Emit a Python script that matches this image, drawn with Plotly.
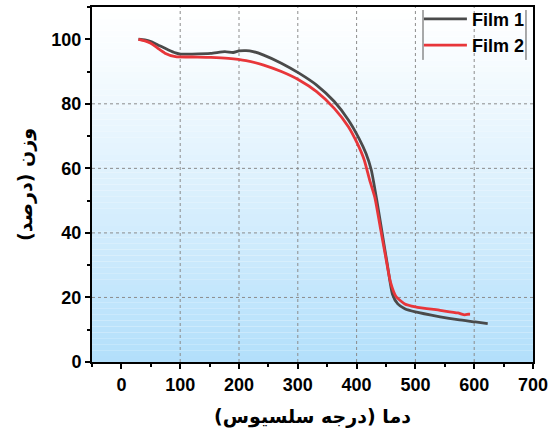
import plotly.graph_objects as go

# ---- data ----
film1_T = [29, 40, 50, 65, 80, 92, 101, 120, 152, 176, 190, 200, 212, 224, 242, 272, 302, 332, 362,
           386, 404, 416, 425, 434, 443, 452, 461, 470, 482, 500, 542, 572, 602, 623]
film1_W = [100, 99.8, 99.3, 98.0, 96.7, 95.8, 95.4, 95.4, 95.6, 96.2, 95.9, 96.4, 96.5, 96.2, 95.1,
           92.6, 89.5, 85.8, 80.7, 75.0, 69.3, 64.6, 59.5, 50.5, 40.5, 30.5, 21.0, 18.0, 16.5, 15.5,
           14.0, 13.1, 12.4, 11.9]

film2_T = [29, 40, 50, 62, 74, 92, 120, 152, 182, 212, 242, 272, 302, 332, 362, 386, 401, 413, 422,
           431, 440, 449, 458, 467, 482, 500, 542, 572, 584, 590, 593]
film2_W = [100, 99.5, 98.8, 97.2, 95.7, 94.6, 94.5, 94.4, 94.1, 93.4, 92.0, 90.0, 87.4, 83.8, 78.6,
           72.9, 67.8, 62.6, 56.5, 51.0, 42.0, 33.0, 24.5, 20.3, 18.0, 17.1, 16.0, 15.2, 14.6, 14.8, 14.8]

series_names = ["Film 1", "Film 2"]
series_colors = ["#4a4a4a", "#e8363a"]

x_range = [-50, 700]
y_range = [0, 110]
x_grid = [100, 200, 300, 400, 500, 600]
y_grid = [20, 40, 60, 80]

x_title = "دما (درجه سلسیوس)"
y_title = "وزن (درصد)"

FONT = "Liberation Sans, Arial, DejaVu Sans, sans-serif"
FA_FONT = "DejaVu Sans, sans-serif"

fig = go.Figure()
for T, W, name, col in [(film1_T, film1_W, series_names[0], series_colors[0]),
                        (film2_T, film2_W, series_names[1], series_colors[1])]:
    fig.add_trace(go.Scatter(x=T, y=W, mode="lines", name=name,
                             line=dict(color=col, width=2.8, shape="spline", smoothing=0.6)))

# gradient background (white at top -> light blue at bottom)
n = 60
top = (255, 255, 255)
bot = (178, 223, 251)
for i in range(n):
    y0 = i / n
    y1 = (i + 1) / n
    t = 1 - (y0 + y1) / 2  # 0 at top, 1 at bottom
    t = t ** 1.15
    c = tuple(round(top[k] + (bot[k] - top[k]) * t) for k in range(3))
    fig.add_shape(type="rect", xref="x domain", yref="y domain", x0=0, x1=1, y0=y0, y1=y1,
                  fillcolor="rgb(%d,%d,%d)" % c, line=dict(width=0), layer="below")

# dotted grid
for gx in x_grid:
    fig.add_shape(type="line", xref="x", yref="y domain", x0=gx, x1=gx, y0=0, y1=1,
                  line=dict(color="#8c8c8c", width=1, dash="dot"), layer="below")
for gy in y_grid:
    fig.add_shape(type="line", xref="x domain", yref="y", x0=0, x1=1, y0=gy, y1=gy,
                  line=dict(color="#8c8c8c", width=1, dash="dot"), layer="below")

# legend partial frame (left and right vertical lines), paper coords
for px in [0.7506, 0.9841]:
    fig.add_shape(type="line", xref="paper", yref="paper", x0=px, x1=px, y0=0.9915, y1=0.851,
                  line=dict(color="#555555", width=1))

fig.update_layout(
    width=552, height=431,
    margin=dict(l=92, r=19, t=7, b=69, autoexpand=False),
    paper_bgcolor="white", plot_bgcolor="white",
    font=dict(family=FONT, color="black"),
    showlegend=True,
    legend=dict(x=0.993, y=1.018, xanchor="right", yanchor="top",
                bgcolor="rgba(0,0,0,0)", borderwidth=0,
                font=dict(family=FONT, size=18, color="black", weight="bold"),
                itemwidth=43, tracegroupgap=0),
    xaxis=dict(range=x_range, dtick=100, tick0=0, showgrid=False, zeroline=False,
               showline=True, linecolor="black", linewidth=2, mirror=True,
               ticks="outside", ticklen=5, tickwidth=2, tickcolor="black",
               minor=dict(dtick=50, tick0=0, ticks="outside", ticklen=3, tickwidth=1.5, tickcolor="black"),
               tickfont=dict(family=FONT, size=18, color="black", weight="bold"),
               title=dict(text=x_title, standoff=16,
                          font=dict(family=FA_FONT, size=19, color="black", weight="bold"))),
    yaxis=dict(range=y_range, dtick=20, tick0=0, showgrid=False, zeroline=False,
               showline=True, linecolor="black", linewidth=2, mirror=True,
               ticks="outside", ticklen=5, tickwidth=2, tickcolor="black",
               minor=dict(dtick=10, tick0=0, ticks="outside", ticklen=3, tickwidth=1.5, tickcolor="black"),
               tickfont=dict(family=FONT, size=18, color="black", weight="bold"),
               title=dict(text=y_title, standoff=14,
                          font=dict(family=FA_FONT, size=19, color="black", weight="bold"))),
)

fig.write_html("out.html", config={"displayModeBar": False},
               post_script="document.body.style.margin='0px';document.body.style.padding='0px';")
